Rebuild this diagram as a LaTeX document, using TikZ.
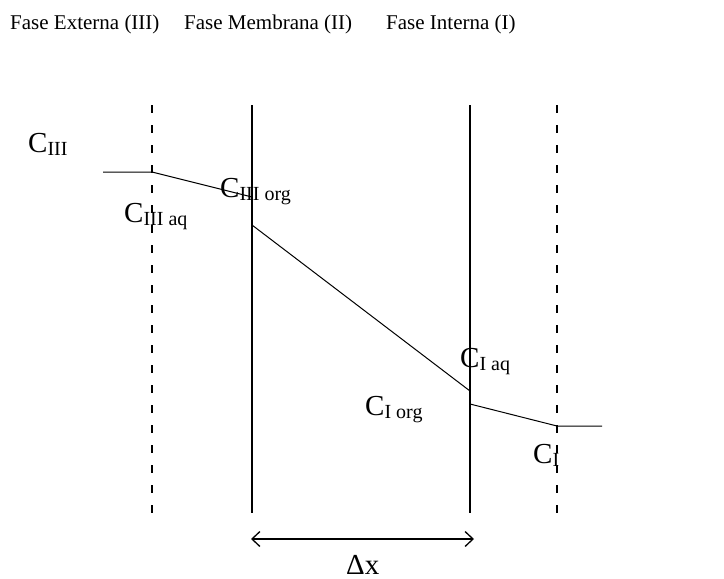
\documentclass[tikz,border=0pt]{standalone}
\usepackage{fontspec}
\setmainfont{Liberation Serif}
\usetikzlibrary{arrows.meta}
\begin{document}
\begin{tikzpicture}[x=1pt,y=-1pt,
  wall/.style={line width=1.3pt},
  interface/.style={line width=1.3pt, dash pattern=on 8pt off 12pt},
  profile/.style={line width=1pt},
  hdr/.style={anchor=base west, inner sep=0pt, font=\fontsize{21}{24}\selectfont},
  conc/.style={anchor=base west, inner sep=0pt},
  dimarrow/.style={line width=1.3pt, {Straight Barb[length=8pt,width=15pt,line width=1.3pt]}-{Straight Barb[length=8pt,width=15pt,line width=1.3pt]}}]
\useasboundingbox (0,0) rectangle (724,579);
\newcommand\cl[1]{{\fontsize{29}{30}\selectfont C}\raisebox{-3pt}{\fontsize{20}{22}\selectfont #1}}
% headers
\node[hdr] (h3) at (10,29) {Fase Externa (III)};
\node[hdr] (h2) at (184,29) {Fase Membrana (II)};
\node[hdr] (h1) at (386,29) {Fase Interna (I)};
% vertical lines
\coordinate (d1t) at (152,105); \coordinate (d1b) at (152,515);
\coordinate (s1t) at (252,105); \coordinate (s1b) at (252,513);
\coordinate (s2t) at (470,105); \coordinate (s2b) at (470,513);
\coordinate (d2t) at (557,105); \coordinate (d2b) at (557,515);
\draw[interface] (d1t) -- (d1b);
\draw[interface] (d2t) -- (d2b);
\draw[wall] (s1t) -- (s1b);
\draw[wall] (s2t) -- (s2b);
% profile
\coordinate (p0) at (103,172);
\coordinate (p1) at (152,172);
\coordinate (p2) at (252,197);
\coordinate (p3) at (252,225);
\coordinate (p4) at (470,391);
\coordinate (p5) at (470,404);
\coordinate (p6) at (557,426);
\coordinate (p7) at (602,426);
\draw[profile] (p0) -- (p1) -- (p2);
\draw[profile] (p3) -- (p4);
\draw[profile] (p5) -- (p6) -- (p7);
% labels
\node[conc] (cIII) at (28,152) {\cl{III}};
\node[conc] (cIIIorg) at (220,197) {\cl{III org}};
\node[conc] (cIIIaq) at (124,222) {\cl{III aq}};
\node[conc] (cIaq) at (460,367) {\cl{I aq}};
\node[conc] (cIorg) at (365,415) {\cl{I org}};
\node[conc] (cI) at (533,463) {\cl{I}};
% delta x
\coordinate (a1) at (251,539);
\coordinate (a2) at (474,539);
\draw[dimarrow] (a1) -- (a2);
\node[anchor=base west, inner sep=0pt, font=\fontsize{29}{30}\selectfont] (dx) at (346,574) {Δx};
\end{tikzpicture}
\end{document}
